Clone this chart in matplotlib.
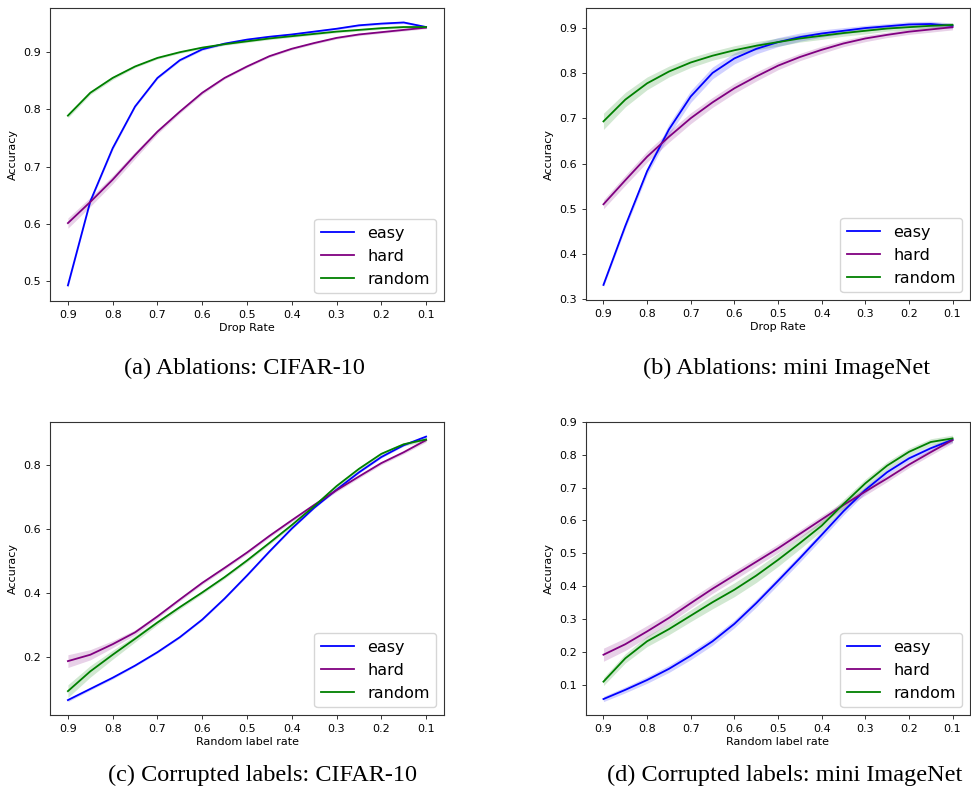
import numpy as np
import matplotlib.pyplot as plt

# x grid (rate), read every 0.05
rate = [0.9, 0.85, 0.8, 0.75, 0.7, 0.65, 0.6, 0.55, 0.5,
        0.45, 0.4, 0.35, 0.3, 0.25, 0.2, 0.15, 0.1]
tick_vals = [0.9, 0.8, 0.7, 0.6, 0.5, 0.4, 0.3, 0.2, 0.1]

# (a) Ablations: CIFAR-10
a_easy = [0.492, 0.639, 0.732, 0.805, 0.855, 0.886, 0.905, 0.915, 0.922,
          0.927, 0.931, 0.936, 0.941, 0.947, 0.950, 0.952, 0.944]
a_hard = [0.601, 0.638, 0.677, 0.720, 0.761, 0.796, 0.829, 0.855, 0.875,
          0.893, 0.906, 0.916, 0.925, 0.931, 0.935, 0.939, 0.943]
a_rand = [0.789, 0.829, 0.855, 0.875, 0.890, 0.900, 0.908, 0.914, 0.919,
          0.924, 0.928, 0.932, 0.936, 0.939, 0.942, 0.944, 0.944]
a_easy_sd = [0.004, 0.003, 0.003, 0.002, 0.002, 0.002, 0.002, 0.002, 0.002,
             0.002, 0.002, 0.002, 0.002, 0.002, 0.002, 0.002, 0.002]
a_hard_sd = [0.009, 0.008, 0.007, 0.006, 0.004, 0.003, 0.003, 0.002, 0.002,
             0.002, 0.002, 0.002, 0.002, 0.002, 0.002, 0.002, 0.002]
a_rand_sd = [0.004, 0.003, 0.003, 0.002, 0.002, 0.002, 0.002, 0.002, 0.002,
             0.002, 0.002, 0.002, 0.002, 0.002, 0.002, 0.002, 0.002]

# (b) Ablations: mini ImageNet
b_easy = [0.332, 0.462, 0.583, 0.675, 0.748, 0.800, 0.832, 0.853, 0.868,
          0.879, 0.887, 0.893, 0.899, 0.903, 0.907, 0.908, 0.904]
b_hard = [0.510, 0.563, 0.615, 0.659, 0.700, 0.735, 0.766, 0.792, 0.816,
          0.835, 0.851, 0.865, 0.876, 0.884, 0.891, 0.896, 0.901]
b_rand = [0.693, 0.741, 0.777, 0.803, 0.823, 0.838, 0.850, 0.860, 0.868,
          0.876, 0.882, 0.888, 0.893, 0.898, 0.901, 0.904, 0.906]
b_easy_sd = [0.004, 0.006, 0.008, 0.012, 0.013, 0.013, 0.012, 0.011, 0.010,
             0.009, 0.008, 0.007, 0.006, 0.006, 0.006, 0.006, 0.006]
b_hard_sd = [0.010, 0.011, 0.012, 0.012, 0.012, 0.011, 0.011, 0.010, 0.009,
             0.008, 0.008, 0.007, 0.007, 0.006, 0.006, 0.006, 0.006]
b_rand_sd = [0.018, 0.016, 0.014, 0.012, 0.011, 0.010, 0.010, 0.009, 0.009,
             0.008, 0.008, 0.007, 0.007, 0.006, 0.006, 0.005, 0.005]

# (c) Corrupted labels: CIFAR-10
c_easy = [0.065, 0.100, 0.135, 0.173, 0.215, 0.262, 0.317, 0.383, 0.455,
          0.530, 0.602, 0.667, 0.724, 0.778, 0.826, 0.863, 0.890]
c_hard = [0.187, 0.207, 0.240, 0.277, 0.327, 0.380, 0.432, 0.479, 0.527,
          0.579, 0.628, 0.676, 0.722, 0.765, 0.807, 0.841, 0.879]
c_rand = [0.093, 0.155, 0.207, 0.257, 0.308, 0.356, 0.402, 0.450, 0.502,
          0.557, 0.613, 0.672, 0.735, 0.789, 0.836, 0.866, 0.881]
c_easy_sd = [0.005, 0.004, 0.004, 0.003, 0.003, 0.003, 0.003, 0.003, 0.003,
             0.003, 0.003, 0.003, 0.003, 0.003, 0.003, 0.003, 0.004]
c_hard_sd = [0.020, 0.016, 0.011, 0.008, 0.006, 0.005, 0.005, 0.005, 0.005,
             0.005, 0.005, 0.005, 0.005, 0.005, 0.005, 0.005, 0.006]
c_rand_sd = [0.020, 0.018, 0.014, 0.010, 0.007, 0.006, 0.005, 0.005, 0.005,
             0.005, 0.005, 0.005, 0.005, 0.005, 0.005, 0.005, 0.006]

# (d) Corrupted labels: mini ImageNet
d_easy = [0.056, 0.084, 0.114, 0.148, 0.188, 0.232, 0.285, 0.348, 0.416,
          0.485, 0.556, 0.628, 0.693, 0.747, 0.789, 0.820, 0.846]
d_hard = [0.191, 0.223, 0.262, 0.303, 0.348, 0.392, 0.433, 0.474, 0.515,
          0.559, 0.603, 0.647, 0.688, 0.728, 0.770, 0.808, 0.845]
d_rand = [0.109, 0.180, 0.232, 0.269, 0.310, 0.351, 0.389, 0.432, 0.480,
          0.531, 0.584, 0.650, 0.713, 0.767, 0.809, 0.839, 0.850]
d_easy_sd = [0.008, 0.009, 0.010, 0.011, 0.012, 0.012, 0.012, 0.012, 0.012,
             0.012, 0.012, 0.011, 0.010, 0.009, 0.009, 0.008, 0.008]
d_hard_sd = [0.020, 0.019, 0.018, 0.016, 0.015, 0.014, 0.014, 0.013, 0.013,
             0.012, 0.012, 0.011, 0.011, 0.010, 0.009, 0.009, 0.009]
d_rand_sd = [0.012, 0.014, 0.016, 0.017, 0.018, 0.020, 0.021, 0.021, 0.020,
             0.018, 0.016, 0.014, 0.013, 0.012, 0.011, 0.010, 0.010]

panels = [
    ('a', [a_easy, a_hard, a_rand], [a_easy_sd, a_hard_sd, a_rand_sd],
     'Drop Rate', '(a) Ablations: CIFAR-10'),
    ('b', [b_easy, b_hard, b_rand], [b_easy_sd, b_hard_sd, b_rand_sd],
     'Drop Rate', '(b) Ablations: mini ImageNet'),
    ('c', [c_easy, c_hard, c_rand], [c_easy_sd, c_hard_sd, c_rand_sd],
     'Random label rate', '(c) Corrupted labels: CIFAR-10'),
    ('d', [d_easy, d_hard, d_rand], [d_easy_sd, d_hard_sd, d_rand_sd],
     'Random label rate', '(d) Corrupted labels: mini ImageNet'),
]
names = ['easy', 'hard', 'random']
colors = ['blue', 'purple', 'green']

W, H = 971, 786
# axes boxes in pixels: left, top, right, bottom
boxes = {'a': (50, 8, 444, 301), 'b': (586, 8, 970, 300),
         'c': (50, 422, 444, 715), 'd': (586, 422, 970, 715)}
# caption centres in pixels
cap_pos = {'a': (244, 368), 'b': (787, 368), 'c': (263, 775), 'd': (785, 775)}

fig = plt.figure(figsize=(W / 100, H / 100), dpi=100)
x = np.array(rate)
for key, series, sds, xlabel, caption in panels:
    l, t, r, b = boxes[key]
    ax = fig.add_axes([l / W, 1 - b / H, (r - l) / W, (b - t) / H])
    for y, sd, name, c in zip(series, sds, names, colors):
        y = np.array(y)
        sd = np.array(sd)
        ax.fill_between(x, y - sd, y + sd, color=c, alpha=0.18, linewidth=0)
        ax.plot(x, y, color=c, lw=1.3, label=name)
    ax.invert_xaxis()
    ax.set_xticks(tick_vals)
    ax.tick_params(labelsize=8, length=3, width=0.7, color='#333333')
    ax.set_xlabel(xlabel, fontsize=8, labelpad=2)
    ax.set_ylabel('Accuracy', fontsize=8, labelpad=4)
    for sp in ax.spines.values():
        sp.set_linewidth(0.8)
        sp.set_color('#333333')
    ax.legend(loc='lower right', fontsize=11.5, handlelength=2.1)
    if key == 'd':
        ax.set_ylim(top=0.9)
    fig.text(cap_pos[key][0] / W, 1 - cap_pos[key][1] / H, caption,
             family='Liberation Serif', fontsize=17.5, ha='center', va='center')

fig.savefig('out.png', dpi=100)
